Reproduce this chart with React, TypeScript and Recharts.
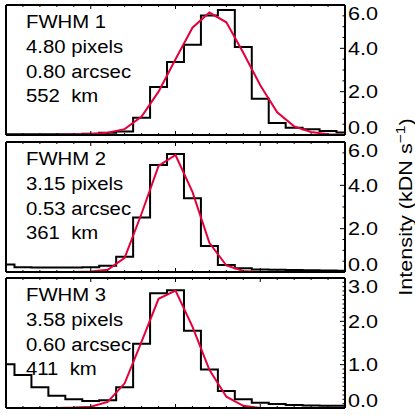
import { LineChart, Line, XAxis, YAxis } from 'recharts';

// bin positions (pixels along the slit)
const binPos = [0, 1, 2, 3, 4, 5, 6, 7, 8, 9, 10, 11, 12, 13, 14, 15, 16, 17, 18, 19, 20];

const counts1 = [0.03, 0.03, 0.03, 0.03, 0.04, 0.06, 0.1, 0.16, 0.8, 2.22, 3.37, 4.17, 5.51, 5.77, 4.06, 1.67, 0.55, 0.34, 0.27, 0.19, 0.11];
const fit1 = [0, 0, 0, 0, 0.02, 0.05, 0.1, 0.27, 0.85, 2.0, 3.5, 4.95, 5.65, 5.2, 3.8, 2.3, 1.05, 0.4, 0.14, 0.03, 0];

const counts2 = [0.35, 0.22, 0.21, 0.21, 0.21, 0.22, 0.29, 0.7, 2.51, 4.94, 5.45, 3.4, 1.2, 0.32, 0.17, 0.12, 0.1, 0.09, 0.08, 0.07, 0.06];
const fit2 = [0, 0, 0, 0, 0, 0.02, 0.1, 0.65, 2.7, 4.9, 5.4, 3.7, 1.35, 0.3, 0.05, 0, 0, 0, 0, 0, 0];

const counts3 = [1.01, 0.76, 0.48, 0.28, 0.2, 0.16, 0.18, 0.48, 1.48, 2.65, 2.72, 1.78, 0.89, 0.39, 0.2, 0.12, 0.09, 0.07, 0.06, 0.05, 0.05];
const fit3 = [0, 0, 0, 0, 0.01, 0.03, 0.14, 0.57, 1.53, 2.52, 2.71, 1.88, 0.88, 0.26, 0.05, 0, 0, 0, 0, 0, 0];

const labels1 = ['FWHM 1', '4.80 pixels', '0.80 arcsec', '552  km'];
const labels2 = ['FWHM 2', '3.15 pixels', '0.53 arcsec', '361  km'];
const labels3 = ['FWHM 3', '3.58 pixels', '0.60 arcsec', '411  km'];

const yMajor6 = [0, 2, 4, 6];
const yMajor3 = [0, 1, 2, 3];

const RED = '#e4003a';
const FONT = '"Liberation Sans", Arial, sans-serif';

const PANEL_TOPS = [5, 142, 278];
const PANEL_H = 130;

function minorTicks(max: number, step: number) {
  const out: number[] = [];
  for (let k = 0; k * step <= max + 1e-9; k++) out.push(Math.round(k * step * 100) / 100);
  return out;
}

function xTick(side: 'top' | 'bottom') {
  return (props: any) => {
    const { x, y, payload } = props;
    const major = payload.value % 5 === 0;
    const len = major ? 4 : 2;
    const dir = side === 'bottom' ? -1 : 1;
    return <line x1={x} y1={y} x2={x} y2={y + dir * len} stroke="#000" strokeWidth={1} />;
  };
}

function yTick(side: 'left' | 'right', max: number, majors: number[]) {
  return (props: any) => {
    const { x, y, payload } = props;
    const v = Number(payload.value);
    const isMajor = majors.some((m) => Math.abs(m - v) < 1e-6);
    const len = isMajor ? 5 : 2.5;
    const dir = side === 'right' ? -1 : 1;
    let label = null;
    if (side === 'right' && isMajor) {
      const dy = v === max ? 8.5 : v === 0 ? -7.5 : 0;
      label = (
        <text
          transform={`translate(${x + 3},${y + dy}) scale(1.2,1)`}
          dy="0.36em"
          fontSize={18}
          fontFamily={FONT}
          fill="#000"
        >
          {v.toFixed(1)}
        </text>
      );
    }
    return (
      <g>
        <line x1={x} y1={y} x2={x + dir * len} y2={y} stroke="#000" strokeWidth={1} />
        {label}
      </g>
    );
  };
}

interface PanelProps {
  top: number;
  counts: number[];
  fit: number[];
  yMax: number;
  majors: number[];
  minorStep: number;
}

function Panel({ top, counts, fit, yMax, majors, minorStep }: PanelProps) {
  const data = binPos.map((x, i) => ({ x, counts: counts[i], fit: fit[i] }));
  const yTicks = minorTicks(yMax, minorStep);
  const axisLine = { stroke: '#000', strokeWidth: 2 };
  return (
    <div style={{ position: 'absolute', left: 0, top: top - 10 }}>
      <LineChart width={415} height={PANEL_H + 20} data={data} margin={{ top: 9, right: 0, bottom: 9, left: 5 }}>
        <XAxis
          xAxisId="b"
          dataKey="x"
          type="number"
          domain={[0, 20]}
          ticks={binPos}
          interval={0}
          orientation="bottom"
          height={1}
          tickSize={0}
          tickMargin={0}
          tickLine={false}
          axisLine={axisLine}
          tick={xTick('bottom')}
        />
        <XAxis
          xAxisId="t"
          dataKey="x"
          type="number"
          domain={[0, 20]}
          ticks={binPos}
          interval={0}
          orientation="top"
          height={1}
          tickSize={0}
          tickMargin={0}
          tickLine={false}
          axisLine={axisLine}
          tick={xTick('top')}
        />
        <YAxis
          yAxisId="r"
          orientation="right"
          type="number"
          width={70}
          domain={[0, yMax]}
          ticks={yTicks}
          interval={0}
          tickSize={0}
          tickMargin={0}
          tickLine={false}
          axisLine={axisLine}
          tick={yTick('right', yMax, majors)}
        />
        <YAxis
          yAxisId="l"
          orientation="left"
          type="number"
          width={1}
          domain={[0, yMax]}
          ticks={yTicks}
          interval={0}
          tickSize={0}
          tickMargin={0}
          tickLine={false}
          axisLine={axisLine}
          tick={yTick('left', yMax, majors)}
        />
        <Line xAxisId="b" yAxisId="r" type="step" dataKey="counts" stroke="#000" strokeWidth={2} dot={false} isAnimationActive={false} />
        <Line xAxisId="b" yAxisId="r" type="linear" dataKey="fit" stroke={RED} strokeWidth={2} dot={false} isAnimationActive={false} />
      </LineChart>
    </div>
  );
}

const lineOffsets = [17, 42, 66.5, 90.5];

export default function App() {
  const allLabels = [labels1, labels2, labels3];
  return (
    <div style={{ position: 'absolute', left: 0, top: 0, width: 415, height: 415, background: '#fff' }}>
      <Panel top={PANEL_TOPS[0]} counts={counts1} fit={fit1} yMax={6} majors={yMajor6} minorStep={0.5} />
      <Panel top={PANEL_TOPS[1]} counts={counts2} fit={fit2} yMax={6} majors={yMajor6} minorStep={0.5} />
      <Panel top={PANEL_TOPS[2]} counts={counts3} fit={fit3} yMax={3} majors={yMajor3} minorStep={0.1} />
      <svg width={415} height={415} style={{ position: 'absolute', left: 0, top: 0, pointerEvents: 'none' }}>
        {allLabels.map((lines, p) =>
          lines.map((t, i) => (
            <text
              key={`${p}-${i}`}
              transform={`translate(26,${PANEL_TOPS[p] + lineOffsets[i]}) scale(1.13,1)`}
              dy="0.36em"
              fontSize={18}
              fontFamily={FONT}
              fill="#000"
              style={{ whiteSpace: 'pre' }}
            >
              {t}
            </text>
          ))
        )}
        <text
          transform="translate(412,207) rotate(-90) scale(1.2,1)"
          textAnchor="middle"
          fontSize={18}
          fontFamily={FONT}
          fill="#000"
        >
          Intensity (kDN s<tspan dy={-7} fontSize={13}>−1</tspan>
          <tspan dy={7}>)</tspan>
        </text>
      </svg>
    </div>
  );
}
